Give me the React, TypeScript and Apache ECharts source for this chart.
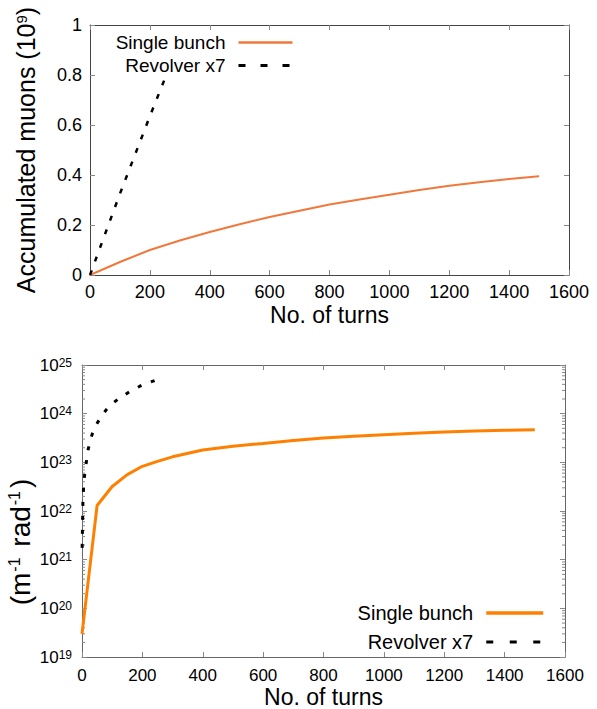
import React, { useEffect, useRef } from 'react';
import * as echarts from 'echarts';

const FONT = "'Liberation Sans', Arial, Helvetica, sans-serif";

// Top panel: accumulated muons (10^9) vs turns
const topSingleTurns = [0, 100, 200, 300, 400, 500, 600, 700, 800, 900, 1000, 1100, 1200, 1300, 1400, 1500];
const topSingleValues = [0, 0.052, 0.1, 0.138, 0.172, 0.203, 0.232, 0.257, 0.282, 0.302, 0.321, 0.34, 0.357, 0.371, 0.384, 0.395];
const topRevolverTurns = [0, 50, 100, 150, 200, 250];
const topRevolverValues = [0, 0.163, 0.325, 0.48, 0.635, 0.785];

// Bottom panel: (m^-1 rad^-1), log scale
const botSingleTurns = [0, 50, 100, 150, 200, 250, 300, 400, 500, 600, 700, 800, 900, 1000, 1100, 1200, 1300, 1400, 1500];
const botSingleValues = [3e19, 1.3e22, 3.2e22, 5.6e22, 8.3e22, 1.05e23, 1.3e23, 1.8e23, 2.15e23, 2.45e23, 2.8e23, 3.15e23, 3.45e23, 3.7e23, 3.95e23, 4.2e23, 4.4e23, 4.55e23, 4.7e23];
const botRevolverTurns = [0, 3, 6, 12, 20, 30, 40, 60, 80, 100, 120, 160, 200, 245];
const botRevolverValues = [1.2e21, 1.5e22, 4e22, 8e22, 1.8e23, 3.2e23, 5e23, 8e23, 1.2e24, 1.6e24, 2e24, 2.9e24, 3.9e24, 4.9e24];

const seriesNames = ['Single bunch', 'Revolver x7'];
const logDecades = [19, 20, 21, 22, 23, 24];
const minorMultipliers = [2, 3, 4, 5, 6, 7, 8, 9];

const zip = (xs: number[], ys: number[]) => xs.map((x, i) => [x, ys[i]]);

export default function App() {
  const ref = useRef<HTMLDivElement>(null);
  useEffect(() => {
    if (!ref.current) return;
    const chart = echarts.init(ref.current, undefined, { renderer: 'svg' });

    const minorTickData: number[][] = [];
    logDecades.forEach((d) => minorMultipliers.forEach((m) => minorTickData.push([0, m * Math.pow(10, d)])));

    const xBase = (grid: number, frame: string, tickColor: string, fs: number, margin: number, nameGap: number) => ({
      gridIndex: grid,
      type: 'value',
      min: 0,
      max: 1600,
      interval: 200,
      position: 'bottom',
      axisLine: { show: true, onZero: false, lineStyle: { color: frame, width: 1 } },
      axisTick: { show: true, inside: true, length: 5, lineStyle: { color: tickColor } },
      axisLabel: { color: '#000', fontSize: fs, fontFamily: FONT, margin, formatter: (v: number) => String(v) },
      splitLine: { show: false },
      name: 'No. of turns',
      nameLocation: 'middle',
      nameGap,
      nameTextStyle: { color: '#000', fontSize: 23, fontFamily: FONT },
    });
    const xTop = (grid: number, frame: string, tickColor: string) => ({
      gridIndex: grid,
      type: 'value',
      min: 0,
      max: 1600,
      interval: 200,
      position: 'top',
      axisLine: { show: true, onZero: false, lineStyle: { color: frame, width: 1 } },
      axisTick: { show: true, inside: true, length: 5, lineStyle: { color: tickColor } },
      axisLabel: { show: false },
      splitLine: { show: false },
    });

    const hiddenSymbol = { opacity: 0, borderWidth: 0 };

    const option: any = {
      animation: false,
      backgroundColor: '#fff',
      grid: [
        { left: 90, top: 25, width: 479, height: 250 },
        { left: 82, top: 365, width: 483, height: 293 },
      ],
      xAxis: [
        xBase(0, '#444', '#888', 18, 8, 28),
        xTop(0, '#444', '#888'),
        xBase(1, '#666', '#888', 17, 10, 26),
        xTop(1, '#666', '#888'),
      ],
      yAxis: [
        {
          gridIndex: 0,
          type: 'value',
          min: 0,
          max: 1,
          interval: 0.2,
          position: 'left',
          axisLine: { show: true, onZero: false, lineStyle: { color: '#444', width: 1 } },
          axisTick: { show: true, inside: true, length: 5, lineStyle: { color: '#888' } },
          axisLabel: { color: '#000', fontSize: 18, fontFamily: FONT, margin: 8 },
          splitLine: { show: false },
        },
        {
          gridIndex: 0,
          type: 'value',
          min: 0,
          max: 1,
          interval: 0.2,
          position: 'right',
          axisLine: { show: true, onZero: false, lineStyle: { color: '#444', width: 1 } },
          axisTick: { show: true, inside: true, length: 5, lineStyle: { color: '#888' } },
          axisLabel: { show: false },
          splitLine: { show: false },
        },
        {
          gridIndex: 1,
          type: 'log',
          logBase: 10,
          min: 1e19,
          max: 1e25,
          position: 'left',
          axisLine: { show: true, onZero: false, lineStyle: { color: '#666', width: 1 } },
          axisTick: { show: true, inside: true, length: 5, lineStyle: { color: '#888' } },
          axisLabel: {
            color: '#000',
            margin: 10,
            fontFamily: FONT,
            formatter: (v: number) => `{b|10}{s|${Math.round(Math.log10(v))}}`,
            rich: {
              b: { fontSize: 17, lineHeight: 17, fontFamily: FONT, color: '#000', verticalAlign: 'bottom' },
              s: { fontSize: 12, lineHeight: 12, fontFamily: FONT, color: '#000', verticalAlign: 'top', padding: [0, 0, 10, 0] },
            },
          },
          splitLine: { show: false },
        },
        {
          gridIndex: 1,
          type: 'log',
          logBase: 10,
          min: 1e19,
          max: 1e25,
          position: 'right',
          axisLine: { show: true, onZero: false, lineStyle: { color: '#666', width: 1 } },
          axisTick: { show: true, inside: true, length: 5, lineStyle: { color: '#888' } },
          axisLabel: { show: false },
          splitLine: { show: false },
        },
      ],
      legend: [
        {
          orient: 'vertical',
          align: 'right',
          right: 303,
          top: 33,
          padding: 0,
          itemWidth: 54,
          itemHeight: 14,
          itemGap: 4,
          textStyle: { color: '#000', fontSize: 19, fontFamily: FONT, padding: [0, 8, 0, 0] },
          data: [
            { name: seriesNames[0], itemStyle: hiddenSymbol, lineStyle: { color: '#f0783c', width: 2.5, type: 'solid' } },
            { name: seriesNames[1], itemStyle: hiddenSymbol, lineStyle: { color: '#000', width: 3, type: [7, 15] } },
          ],
        },
        {
          orient: 'vertical',
          align: 'right',
          right: 52,
          top: 603,
          padding: 0,
          itemWidth: 57,
          itemHeight: 14,
          itemGap: 9,
          textStyle: { color: '#000', fontSize: 20, fontFamily: FONT, padding: [0, 8, 0, 0] },
          data: [
            { name: seriesNames[0], itemStyle: hiddenSymbol, lineStyle: { color: '#ff8000', width: 3.5, type: 'solid' } },
            { name: seriesNames[1], itemStyle: hiddenSymbol, lineStyle: { color: '#000', width: 3, type: [7, 16.5] } },
          ],
        },
      ],
      series: [
        {
          name: seriesNames[0],
          type: 'line',
          xAxisIndex: 0,
          yAxisIndex: 0,
          symbol: 'none',
          smooth: false,
          lineStyle: { color: '#f0783c', width: 2 },
          itemStyle: { color: '#f0783c' },
          data: zip(topSingleTurns, topSingleValues),
        },
        {
          name: seriesNames[1],
          type: 'line',
          xAxisIndex: 0,
          yAxisIndex: 0,
          symbol: 'none',
          lineStyle: { color: '#000', width: 2.5, type: [5, 9.5] },
          itemStyle: { color: '#000' },
          data: zip(topRevolverTurns, topRevolverValues),
        },
        {
          name: seriesNames[0],
          type: 'line',
          xAxisIndex: 2,
          yAxisIndex: 2,
          symbol: 'none',
          lineStyle: { color: '#ff8000', width: 3 },
          itemStyle: { color: '#ff8000' },
          data: zip(botSingleTurns, botSingleValues),
        },
        {
          name: seriesNames[1],
          type: 'line',
          xAxisIndex: 2,
          yAxisIndex: 2,
          symbol: 'none',
          lineStyle: { color: '#000', width: 3, type: [4, 10], dashOffset: 6 },
          itemStyle: { color: '#000' },
          data: zip(botRevolverTurns, botRevolverValues),
        },
        {
          name: 'minor ticks',
          type: 'custom',
          xAxisIndex: 2,
          yAxisIndex: 2,
          silent: true,
          clip: false,
          renderItem: (params: any, api: any) => {
            const y = api.coord([0, api.value(1)])[1];
            const cs = params.coordSys;
            return {
              type: 'group',
              children: [
                { type: 'line', shape: { x1: cs.x, y1: y, x2: cs.x + 3, y2: y }, style: { stroke: '#888', lineWidth: 1 } },
                { type: 'line', shape: { x1: cs.x + cs.width - 3, y1: y, x2: cs.x + cs.width, y2: y }, style: { stroke: '#888', lineWidth: 1 } },
              ],
            };
          },
          data: minorTickData,
        },
      ],
      graphic: [
        {
          type: 'text',
          x: 26,
          y: 150,
          rotation: Math.PI / 2,
          style: {
            text: 'Accumulated muons (10{s|9})',
            fontSize: 25,
            fontFamily: FONT,
            fill: '#000',
            align: 'center',
            verticalAlign: 'middle',
            rich: {
              s: { fontSize: 15, lineHeight: 15, fontFamily: FONT, fill: '#000', verticalAlign: 'top', padding: [0, 0, 12, 0] },
            },
          },
        },
        {
          type: 'text',
          x: 20,
          y: 542,
          rotation: Math.PI / 2,
          style: {
            text: '(m{s|-1} rad{s|-1})',
            fontSize: 28,
            fontFamily: FONT,
            fill: '#000',
            align: 'center',
            verticalAlign: 'middle',
            rich: {
              s: { fontSize: 16, lineHeight: 16, fontFamily: FONT, fill: '#000', verticalAlign: 'top', padding: [0, 3, 13, 1] },
            },
          },
        },
      ],
    };

    chart.setOption(option);
    return () => chart.dispose();
  }, []);

  return <div ref={ref} style={{ position: 'absolute', left: 0, top: 0, width: 597, height: 709 }} />;
}
